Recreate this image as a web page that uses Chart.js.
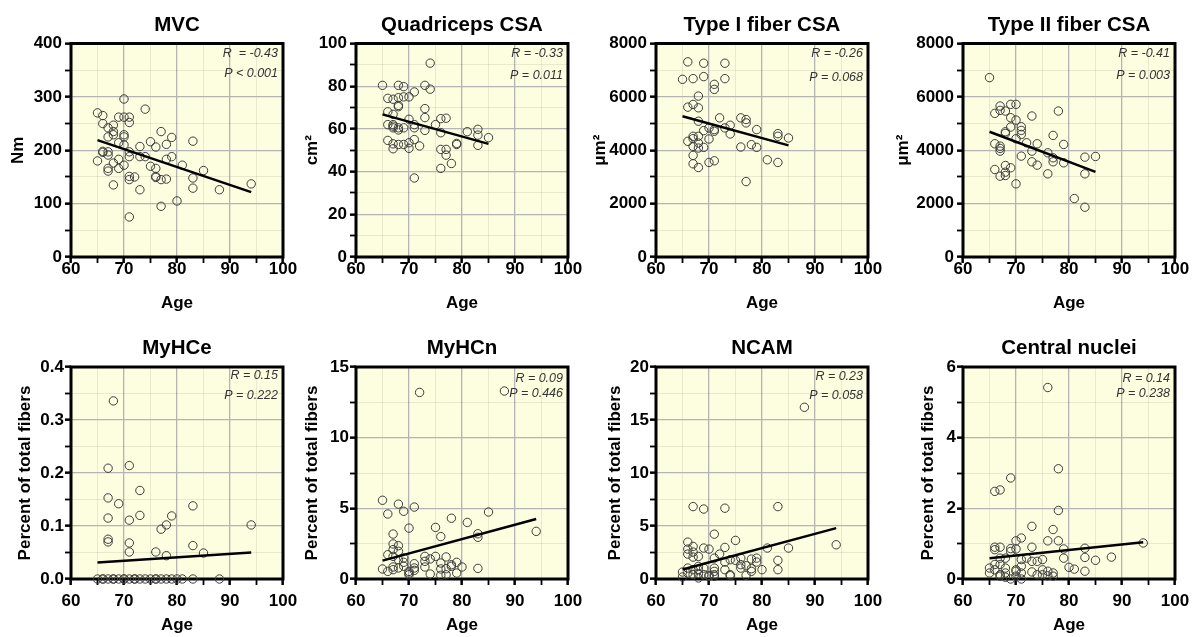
<!DOCTYPE html>
<html>
<head>
<meta charset="utf-8">
<title>Age correlations</title>
<script src="https://cdn.jsdelivr.net/npm/chart.js@4.4.1/dist/chart.umd.min.js"></script>
<style>
    html, body { margin: 0; padding: 0; background: #fff; }
    #wrap { position: relative; width: 1194px; height: 637px; overflow: hidden; }
    #wrap canvas { position: absolute; }
</style>
</head>
<body>
<div id="wrap"></div>
<script>
// Data: [age, value]
const mvcPoints = [[65,270],[66,265],[66,250],[65,180],[66,198],[66,196],[67,242],[67,225],[67,197],[67,191],[67,166],[67,161],
    [68,247],[68,235],[68,229],[68,176],[68,135],[69,262],[69,214],[69,183],[69,166],[70,296],[70,262],[70,229],[70,225],[70,210],
    [70,172],[71,262],[71,252],[71,197],[71,188],[71,151],[71,145],[71,75],[72,150],[73,207],[73,188],[73,126],[74,277],[74,188],
    [75,216],[75,170],[76,206],[76,166],[76,151],[76,149],[77,235],[77,145],[77,95],[78,211],[78,183],[78,146],[79,224],[79,188],
    [80,105],[81,172],[83,217],[83,148],[83,129],[85,162],[88,126],[94,137]];
const mvcFit = [[65,219],[94,121.5]];

const quadPoints = [[65,80.4],[66,74.3],[66,68],[66,62],[66,54.6],[67,73.9],[67,66.8],[67,62],[67,61.3],[67,60.5],[67,53],[67,50.7],
    [68,80.4],[68,74.6],[68,71],[68,70.4],[68,60.5],[68,59.5],[68,52.7],[69,79.8],[69,75],[69,60.5],[69,52.7],[70,75],[70,64.5],
    [70,53.5],[70,50.9],[71,77.3],[71,62],[71,60.5],[71,55],[71,37],[72,52],[73,80.4],[73,69.5],[73,65.3],[73,59.3],[74,90.8],
    [74,78.6],[75,62],[76,64.8],[76,58.2],[76,50.4],[76,41.5],[77,65],[77,50.4],[77,47.7],[78,43.8],[79,53.2],[79,52.7],[81,58.7],
    [83,59.8],[83,57.1],[83,52.3],[85,55.9]];
const quadFit = [[65,66.8],[85,53]];

const type1Points = [[65,6658],[66,7312],[66,5615],[66,4334],[67,6683],[67,5716],[67,4523],[67,4435],[67,4146],[67,3807],[67,3492],
    [68,6030],[68,5590],[68,5088],[68,4523],[68,4271],[68,4083],[68,3354],[69,7261],[69,6759],[69,4736],[69,4108],[70,4837],
    [70,4422],[70,3543],[71,6470],[71,6281],[71,4774],[71,4711],[71,3605],[72,5214],[73,7261],[73,6683],[73,4837],[74,4937],
    [74,4611],[76,5214],[76,4121],[77,5151],[77,5025],[77,2827],[78,4209],[79,4774],[79,4108],[81,3643],[83,4623],[83,4523],
    [83,3543],[85,4460]];
const type1Fit = [[65,5276],[85,4183]];

const type2Points = [[65,6721],[66,5382],[66,4243],[66,3279],[67,5657],[67,5494],[67,4155],[67,4068],[67,3967],[67,3029],[68,5469],
    [68,4693],[68,4631],[68,3429],[68,3179],[68,3054],[69,5720],[69,5219],[69,4869],[69,3342],[70,5720],[70,5131],[70,4431],
    [70,2741],[71,4881],[71,4743],[71,4593],[71,3780],[72,4280],[73,5282],[73,3967],[73,3567],[74,4243],[74,3442],[76,3905],
    [76,3116],[77,4556],[77,3717],[77,3567],[78,5469],[79,4218],[79,3529],[81,2190],[83,3742],[83,3116],[83,1865],[85,3767]];
const type2Fit = [[65,4693],[85,3191]];

const myhcePoints = [[68,0.336],[67,0.209],[67,0.153],[67,0.115],[67,0.075],[67,0.070],[69,0.142],[71,0.214],[71,0.111],[71,0.068],
    [71,0.051],[73,0.167],[73,0.120],[76,0.051],[77,0.094],[78,0.102],[78,0.044],[79,0.119],[83,0.138],[83,0.063],[85,0.049],
    [94,0.102],[65,0],[66,0],[66,0],[67,0],[68,0],[68,0],[69,0],[70,0],[70,0],[71,0],[72,0],[72,0],[73,0],[74,0],[75,0],[76,0],
    [76,0],[77,0],[78,0],[79,0],[80,0],[81,0],[83,0],[88,0]];
const myhceFit = [[65,0.031],[94,0.050]];

const myhcnPoints = [[65,5.57],[66,4.6],[68,5.3],[69,4.79],[71,5.09],[72,13.2],[70,3.6],[88,13.3],[85,4.74],[78,4.3],[81,4.0],
    [75,3.65],[76,3.0],[83,3.2],[83,2.95],[94,3.37],[67,3.18],[67,2.48],[67,2.08],[68,2.36],[68,1.96],[66,1.72],[67,1.6],[69,1.49],
    [68,1.37],[65,0.71],[66,0.54],[67,0.66],[67,0.85],[68,0.78],[69,0.9],[69,1.18],[70,0.54],[70,0.3],[70,0.42],[71,1.08],
    [71,0.78],[71,0.61],[73,1.6],[73,1.25],[73,0.85],[74,1.42],[74,0.35],[75,1.6],[76,1.13],[76,0.71],[76,0.26],[77,1.56],
    [77,0.73],[77,0.3],[78,1.01],[78,0.9],[79,1.18],[79,0.42],[80,0.85],[83,0.75]];
const myhcnFit = [[65,1.30],[94,4.25]];

const ncamPoints = [[88,16.2],[67,6.83],[69,6.6],[73,6.68],[83,6.83],[71,4.23],[75,3.64],[94,3.23],[66,3.48],[66,2.82],[66,2.35],
    [67,3.07],[67,2.54],[67,2.07],[68,2.13],[69,2.92],[70,2.82],[71,1.97],[72,2.35],[73,2.98],[73,1.6],[74,1.82],[75,1.76],
    [76,1.97],[76,1.35],[76,1.03],[77,1.25],[78,1.88],[78,0.97],[78,0.72],[79,1.97],[79,1.6],[80,0.88],[81,2.92],[83,1.76],
    [83,0.88],[85,2.92],[65,0.66],[66,1.03],[66,0.56],[67,0.88],[67,0.41],[68,1.19],[68,0.88],[68,0.5],[68,0.1],[69,1.03],
    [69,0.41],[70,0.34],[70,0.25],[71,1.03],[71,0.72],[71,0.41],[71,0.25],[73,0.88],[74,0.41],[74,0.31],[77,0.34],[65,0.19]];
const ncamFit = [[65,0.9],[94,4.8]];

const cnPoints = [[76,5.42],[78,3.12],[69,2.86],[66,2.48],[67,2.52],[78,1.94],[73,1.49],[77,1.4],[76,1.08],[78,1.08],[71,1.16],
    [70,1.08],[70,0.85],[73,0.9],[67,0.9],[66,0.9],[66,0.83],[69,0.86],[69,0.78],[68,0.59],[72,0.59],[79,0.85],[79,0.59],
    [83,0.87],[83,0.61],[85,0.53],[88,0.62],[94,1.02],[65,0.31],[65,0.17],[66,0.41],[66,0.26],[67,0.59],[67,0.41],[67,0.12],
    [67,0.08],[68,0.31],[68,0.17],[68,0.05],[69,0.0],[70,0.26],[70,0.22],[70,0.08],[71,0.55],[71,0.36],[71,0.17],[71,0.0],
    [73,0.5],[73,0.2],[74,0.5],[74,0.12],[75,0.55],[75,0.26],[75,0.12],[76,0.22],[76,0.09],[77,0.17],[77,0.08],[80,0.33],
    [81,0.28],[83,0.22]];
const cnFit = [[65,0.59],[94,1.04]];

const panelTitles = ['MVC', 'Quadriceps CSA', 'Type I fiber CSA', 'Type II fiber CSA', 'MyHCe', 'MyHCn', 'NCAM', 'Central nuclei'];
const yTitles = ['Nm', 'cm\u00B2', '\u03BCm\u00B2', '\u03BCm\u00B2', 'Percent of total fibers', 'Percent of total fibers',
    'Percent of total fibers', 'Percent of total fibers'];
const yMax = [400, 100, 8000, 8000, 0.4, 15, 20, 6];
const yMajor = [100, 20, 2000, 2000, 0.1, 5, 5, 2];
const yDecimals = [0, 0, 0, 0, 1, 0, 0, 0];
const rValues = ['R  = -0.43', 'R = -0.33', 'R = -0.26', 'R = -0.41', 'R = 0.15', 'R = 0.09', 'R = 0.23', 'R = 0.14'];
const pValues = ['P < 0.001', 'P = 0.011', 'P = 0.068', 'P = 0.003', 'P = 0.222', 'P = 0.446', 'P = 0.058', 'P = 0.238'];
const xTicks = { min: 60, max: 100, major: 10 };

const allPoints = [mvcPoints, quadPoints, type1Points, type2Points, myhcePoints, myhcnPoints, ncamPoints, cnPoints];
const allFits = [mvcFit, quadFit, type1Fit, type2Fit, myhceFit, myhcnFit, ncamFit, cnFit];

// Layout (pixels)
const FONT = '"Liberation Sans", Arial, Helvetica, sans-serif';
const PLOT_W = 212;
const RIGHT_PAD = 25;
const rows = [
    { top: 0, height: 318, titlePad: { top: 12.7, bottom: 6.2 }, xAxisH: 61, xTickPad: -2.5, xTitlePad: 4.8, yTickPad: 3 },
    { top: 318, height: 319, titlePad: { top: 18, bottom: 6.4 }, xAxisH: 58, xTickPad: 7.5, xTitlePad: 1.8, yTickPad: 1 }
];
const plotLefts = [71, 356, 656, 963, 71, 356, 656, 963];
const axisWidths = [63, 54, 66, 70, 56, 54, 51, 45];
const statOffsets = [[10, 30], [10, 32], [10, 34], [10, 32], [9, 29], [12, 27], [10, 29], [12, 27]];

const PLOT_BG = '#fdfde0';
const MAJOR_GRID = '#b4b4b4';
const MINOR_GRID = 'rgba(0, 0, 0, 0.08)';

Chart.defaults.font.family = FONT;
Chart.defaults.color = '#000';

function isMajor(v, major) {
    const q = v / major;
    return Math.abs(q - Math.round(q)) < 1e-6;
}

function framePlugin() {
    return {
        id: 'frame',
        beforeDraw(chart) {
            const a = chart.chartArea;
            const ctx = chart.ctx;
            ctx.save();
            ctx.fillStyle = PLOT_BG;
            ctx.fillRect(a.left, a.top, a.right - a.left, a.bottom - a.top);
            ctx.restore();
        },
        beforeDatasetsDraw(chart) {
            const a = chart.chartArea;
            const ctx = chart.ctx;
            ctx.save();
            ctx.strokeStyle = '#000';
            ctx.lineWidth = 3;
            ctx.strokeRect(a.left, a.top, a.right - a.left, a.bottom - a.top);
            ctx.restore();
        }
    };
}

function statsPlugin(i) {
    return {
        id: 'stats',
        afterDatasetsDraw(chart) {
            const a = chart.chartArea;
            const ctx = chart.ctx;
            ctx.save();
            ctx.font = 'italic 12.5px ' + FONT;
            ctx.fillStyle = '#333';
            ctx.textAlign = 'right';
            ctx.textBaseline = 'middle';
            ctx.fillText(rValues[i], a.right - 5, a.top + statOffsets[i][0]);
            ctx.fillText(pValues[i], a.right - 5, a.top + statOffsets[i][1]);
            ctx.restore();
        }
    };
}

function makeChart(i) {
    const row = rows[i < 4 ? 0 : 1];
    const axisW = axisWidths[i];
    const width = axisW + PLOT_W + RIGHT_PAD;

    const canvas = document.createElement('canvas');
    canvas.width = width;
    canvas.height = row.height;
    canvas.style.left = (plotLefts[i] - axisW) + 'px';
    canvas.style.top = row.top + 'px';
    canvas.style.width = width + 'px';
    canvas.style.height = row.height + 'px';
    document.getElementById('wrap').appendChild(canvas);

    const major = yMajor[i];
    const tickFont = { size: 17, weight: 'bold', lineHeight: 1 };
    const titleFont = { size: 17, weight: 'bold', lineHeight: 1.2 };

    new Chart(canvas.getContext('2d'), {
        type: 'scatter',
        data: {
            datasets: [{
                data: allFits[i].map(([x, y]) => ({ x, y })),
                showLine: true,
                borderColor: '#000',
                borderWidth: 2.5,
                pointRadius: 0,
                clip: false
            }, {
                data: allPoints[i].map(([x, y]) => ({ x, y })),
                showLine: false,
                pointRadius: 4.2,
                pointBorderWidth: 1,
                borderColor: '#3c3c3c',
                pointBorderColor: '#3c3c3c',
                backgroundColor: 'rgba(0,0,0,0)',
                pointBackgroundColor: 'rgba(0,0,0,0)',
                clip: false
            }]
        },
        options: {
            responsive: false,
            animation: false,
            devicePixelRatio: 1,
            events: [],
            layout: { padding: { left: 0, right: RIGHT_PAD, top: 0, bottom: 0 } },
            plugins: {
                legend: { display: false },
                tooltip: { enabled: false },
                title: {
                    display: true,
                    text: panelTitles[i],
                    fullSize: false,
                    color: '#000',
                    font: { size: 20.5, weight: 'bold', lineHeight: 1.2 },
                    padding: row.titlePad
                }
            },
            scales: {
                x: {
                    type: 'linear',
                    min: xTicks.min,
                    max: xTicks.max,
                    border: { display: false },
                    grid: {
                        color: c => (c.tick && isMajor(c.tick.value, xTicks.major)) ? MAJOR_GRID : MINOR_GRID,
                        lineWidth: c => (c.tick && isMajor(c.tick.value, xTicks.major)) ? 1.3 : 1,
                        tickColor: '#000',
                        tickLength: 6,
                        tickWidth: c => (c.tick && isMajor(c.tick.value, xTicks.major)) ? 2.5 : 1.8
                    },
                    ticks: {
                        stepSize: xTicks.major / 2,
                        autoSkip: false,
                        maxRotation: 0,
                        padding: row.xTickPad,
                        color: '#000',
                        font: tickFont,
                        callback: v => isMajor(v, xTicks.major) ? String(v) : ''
                    },
                    title: {
                        display: true,
                        text: 'Age',
                        color: '#000',
                        font: titleFont,
                        padding: { top: 0, bottom: row.xTitlePad }
                    },
                    afterFit: s => { s.height = row.xAxisH; }
                },
                y: {
                    type: 'linear',
                    min: 0,
                    max: yMax[i],
                    border: { display: false },
                    grid: {
                        color: c => (c.tick && isMajor(c.tick.value, major)) ? MAJOR_GRID : MINOR_GRID,
                        lineWidth: c => (c.tick && isMajor(c.tick.value, major)) ? 1.3 : 1,
                        tickColor: '#000',
                        tickLength: 6,
                        tickWidth: c => (c.tick && isMajor(c.tick.value, major)) ? 2.5 : 1.8
                    },
                    ticks: {
                        stepSize: major / 2,
                        autoSkip: false,
                        padding: row.yTickPad,
                        color: '#000',
                        font: tickFont,
                        callback: v => isMajor(v, major) ? v.toFixed(yDecimals[i]) : ''
                    },
                    title: {
                        display: true,
                        text: yTitles[i],
                        color: '#000',
                        font: titleFont,
                        padding: { top: 0, bottom: 0 }
                    },
                    afterFit: s => { s.width = axisW; }
                }
            }
        },
        plugins: [framePlugin(), statsPlugin(i)]
    });
}

for (let i = 0; i < panelTitles.length; i++) {
    makeChart(i);
}
</script>
</body>
</html>
